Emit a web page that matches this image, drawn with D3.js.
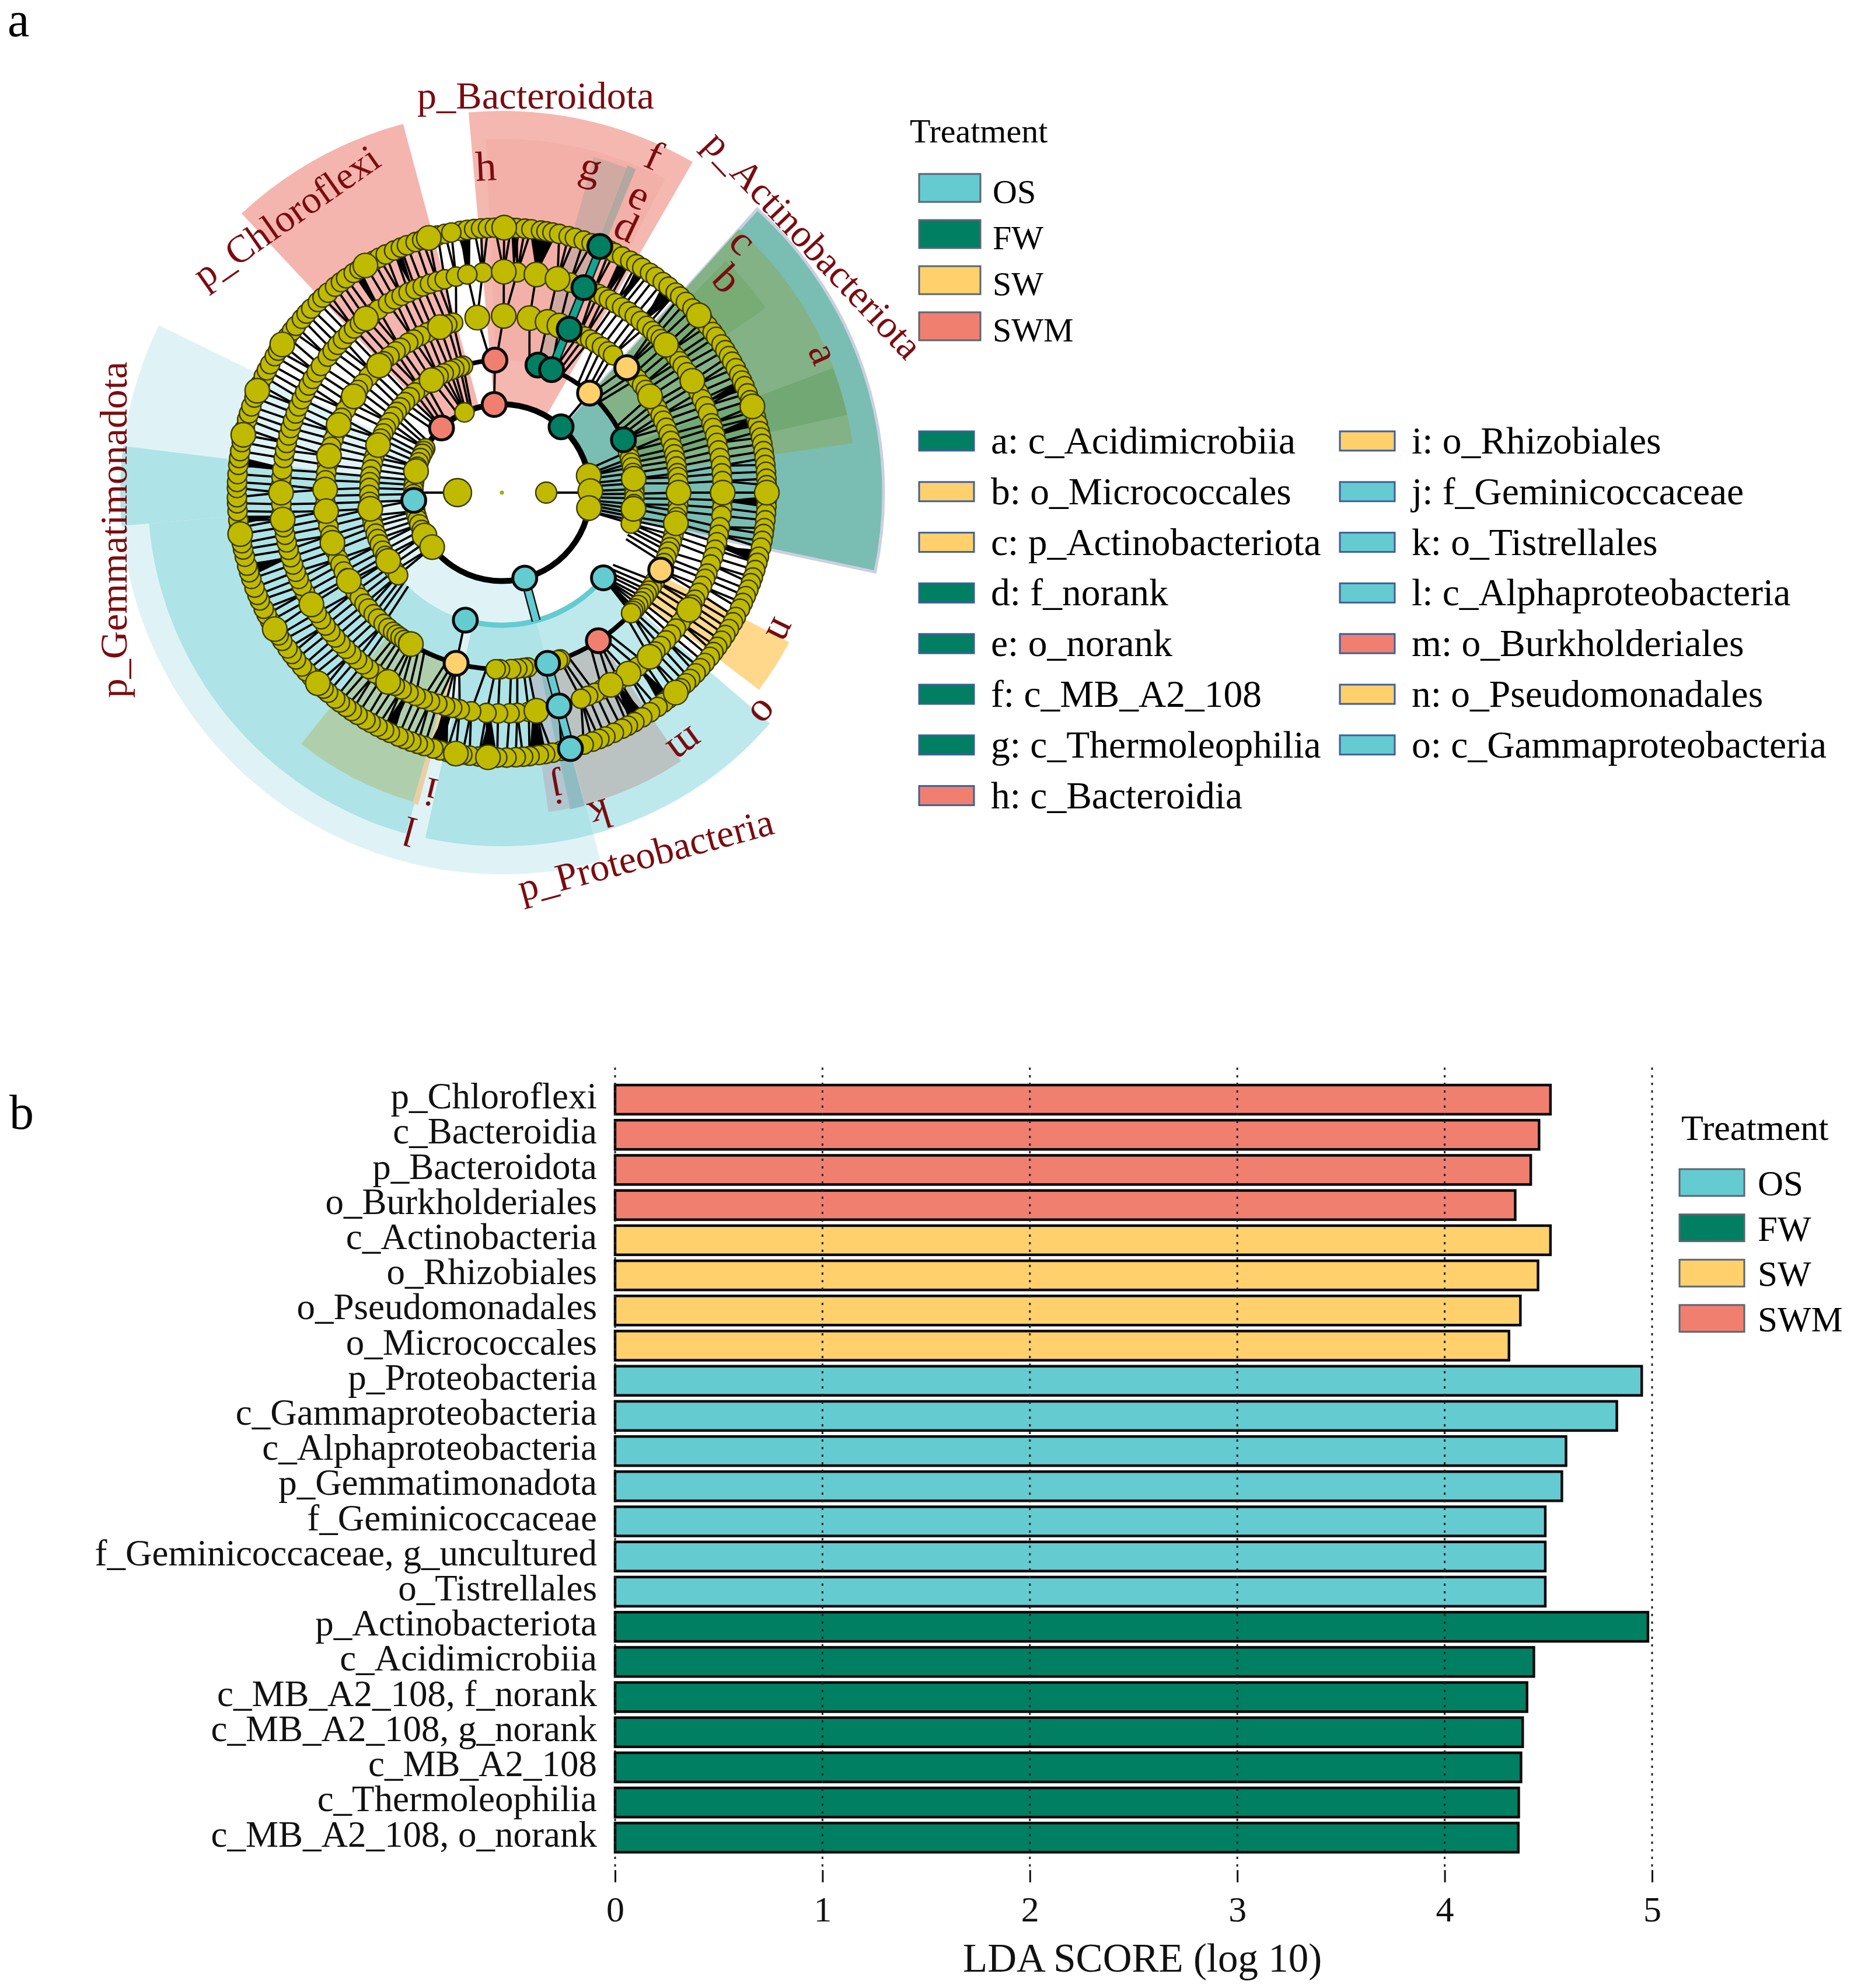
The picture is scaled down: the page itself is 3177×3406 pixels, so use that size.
<!DOCTYPE html>
<html><head><meta charset="utf-8">
<script src="https://cdn.jsdelivr.net/npm/d3@7/dist/d3.min.js"></script>
<style>html,body{margin:0;padding:0;background:#fff}svg{display:block}text{font-family:"Liberation Serif",serif}</style>
</head><body><svg id="c" width="3177" height="3406"></svg>
<script>
// ---------- data: bars ----------
const barNames = ["p_Chloroflexi","c_Bacteroidia","p_Bacteroidota","o_Burkholderiales","c_Actinobacteria","o_Rhizobiales","o_Pseudomonadales","o_Micrococcales","p_Proteobacteria","c_Gammaproteobacteria","c_Alphaproteobacteria","p_Gemmatimonadota","f_Geminicoccaceae","f_Geminicoccaceae, g_uncultured","o_Tistrellales","p_Actinobacteriota","c_Acidimicrobiia","c_MB_A2_108, f_norank","c_MB_A2_108, g_norank","c_MB_A2_108","c_Thermoleophilia","c_MB_A2_108, o_norank"];
const barValues = [4.51,4.455,4.415,4.34,4.51,4.45,4.365,4.31,4.95,4.83,4.585,4.565,4.485,4.485,4.485,4.98,4.43,4.397,4.376,4.368,4.357,4.355];
const barGroups = ["SWM","SWM","SWM","SWM","SW","SW","SW","SW","OS","OS","OS","OS","OS","OS","OS","FW","FW","FW","FW","FW","FW","FW"];
const axisTicks = [0,1,2,3,4,5];
const treatments = ["OS","FW","SW","SWM"];
const cladeKeyLeft = ["a: c_Acidimicrobiia","b: o_Micrococcales","c: p_Actinobacteriota","d: f_norank","e: o_norank","f: c_MB_A2_108","g: c_Thermoleophilia","h: c_Bacteroidia"];
const cladeKeyLeftGroups = ["FW","SW","SW","FW","FW","FW","FW","SWM"];
const cladeKeyRight = ["i: o_Rhizobiales","j: f_Geminicoccaceae","k: o_Tistrellales","l: c_Alphaproteobacteria","m: o_Burkholderiales","n: o_Pseudomonadales","o: c_Gammaproteobacteria"];
const cladeKeyRightGroups = ["SW","OS","OS","OS","SWM","SW","OS"];

// ---------- data: cladogram nodes, one angle list per taxonomic ring (degrees clockwise from top) ----------
const ring1Angles = [270,90];
const ring2Angles = [79,81,84,86,89,91,93,95,96.5,98,100,102,300,298,296,293,290,287,284,281,278,275,272,269,258,255,252,249,245,241,237,232,335];
const ring3Angles = [343,341.5,339,337,334,331.5,328,325,322,319,316,313,310,307.5,305,302,299,296.5,294,291,288,285.5,283,280,277,274.5,272,269,266,263,260,257,255,252,249.5,247,244,241.5,239,236.5,234,231.5,72,75,77,79,81.5,84,86,88.5,90.5,92.5,95,97,99,100.5,102,103.5];
const ring4Angles = [344,342,339.5,337,335,332.5,330,328,325,323,320.5,318,316,313,311,308,305.5,303,300.5,298,295,292.5,290,287.5,285,282,279,276.5,274,271,269,266.5,264,261.5,259,256,253.5,251,248,246,243.5,241,240,238.5,236,233.5,231,229,226.5,224.5,222,220,218,216.5,215,213.5,212,211,210.5,352,0.6,9,15,19,26,28,30,32,34.5,37,39,48,50,52.5,54.5,57,59.5,61.5,64,66,68.5,70.8,73,75.5,77.5,79.5,81.5,83.7,85,87,90,92,94,96,98,100,102,104,106,108,109.5,111.5,113.5,120,122,123.7,125,126.5,128,129.5,131,132,133,160.7,161.5,171.6,173,175,177,180.6,182];
const ring5Angles = [355,0.5,4,9,14.6,18,24.5,26,27.5,29,31,33,35,37,39,41,43,44.5,46,48,50,52,53.5,55,57,59.6,61,63,65,67,69,71.7,73,75,77,79,81,83,85,87,90,92,94,96,99,101,103,105,107,109,111.5,113,115,117,119,120.5,122,124,126,128,130,132,134,136,138,140,142,145,148,150.5,153,155,157,159,171,173,176,178,181,184,188,191,193,194.9,197,199,201,203,205,207,209,211,213,215,217,219,221,223,225,227,229,231,233,235,237,239.6,241,243,245,247,249,251,253,255,257,259,261,263,265,267,270,272,274,276,279,281,283,285,287,289,291,293,295,297,299,301,303,305,308,310,312,314,316,318,320,322,324,326,329,331,333,335,337,339,341,343,345,348,351];
const ring6Angles = [351,352.5,354,355.5,357,358.5,0.5,2,3.2,5,6.4,8.5,9.7,11,12.5,14.6,16,18,19.8,24,25.2,27,29,30.5,32,34,35.5,37.4,39,41,42.3,44,46,48,49.5,51,52.7,54,56,57.5,59,60.4,62,63.6,65,66.3,68,69.6,71,72.2,73.5,75,76.6,78,79.4,81,82.5,84,85.5,87,88.4,90,91.6,93,94.5,96,97.7,99,100.5,102,104,105.4,107,108.7,110,111.5,113,114.6,116,118,119.3,121,122.5,124,125.6,127,128.3,130,131.5,133,134.7,136,137.6,139,141,142.4,144,146,148,150,151.6,153,155,157,158.4,160,162,167,169,170.6,172,174,175.4,177,179,181,183,185,187,188.6,190,192,193.5,195,197,198.5,200,201.6,203,205,206.4,208,209.7,211,213,214.5,216,217.7,219,221,222.3,224,226,227.6,229,231,232.5,234,236,237.4,239,241,242.6,244,246,247.3,249,251,252.5,254,256,257.6,259,261,262.4,264,266,267.7,269,271,272.3,274,276,277.5,279,281,282.6,284,286,287.4,289,291,292.6,294,296,297.5,299,301,302.4,304,306,307.6,309,311,312.5,314,316,317.4,319,321,322.6,324,326,327.5,329,331,332.4,334,336,337.6,339,341,342.5,344,346,347.6,349];
const ringAngles = [ring1Angles,ring2Angles,ring3Angles,ring4Angles,ring5Angles,ring6Angles];
// nodes of high relative abundance, by ring
const ring1Large = [270];
const ring2Large = [79,89,100,232,241,284];
const ring3Large = [275,263,239,291,328,84,90,97];
const ring4Large = [352,0.6,9,15,19,57,90,100,264,271,282,292.5,303,316,240,253.5,211,339.5];
const ring5Large = [0.5,9,14.6,48,59.6,90,122,138,145,150.5,171,211,239.6,263,270,322];
const ring6Large = [270,261,90,100,71,48,355,0.5,9,344,329,322,304,292.6,282.6,239,224,183,190,139];
const ringLarge = [ring1Large,ring2Large,ring3Large,ring4Large,ring5Large,ring6Large];
// biomarker nodes
const markerRings  = [2,2,2,2,2,3,3,3,3,3,3,3,4,4,4,4,4,4,5,5,6,6];
const markerAngles = [317,355,42,165,265,357,15.8,22,41.4,66.5,130,196,22.4,45,116,146.9,165,195,21.8,165,21.7,165];
const markerGroups = ["SWM","SWM","FW","OS","OS","SWM","FW","FW","SW","FW","OS","OS","FW","SW","SW","SWM","OS","SW","FW","OS","FW","OS"];
// clade sectors: start, end, inner radius, outer radius
const sectorStart = [165,317,355,357.4,15.3,21,42,42,69.4,44,117.5,130.7,165,195.7,265,196,195,146.3,165,165.2];
const sectorEnd   = [296,345,390,387.5,21,22.5,102,82,77.3,55,127.5,165,192.5,265,277,218.6,196,165,171.7,167.8];
const sectorInner = [151,155,153,227,227,227,153,227,227,302,302,227,227,227,153,302,302,302,302,302];
const sectorOuter = [654,654,654,606,596,600,654,607,606,552,555,606,606,607,654,551,554,553,553,555];
const sectorTint  = ["#DFF3F6","#F4B5AE","#F4B8B1","#F3B0A8","#D1A9A3","#B3A8A0","#7ABDB3","#83B286","#71A873","#79AB75","#FFD88C","#BDE9ED","#AEE3E7","#AEE3E7","#AEE3E7","#AFCFAC","#EBCFA4","#BBC2C2","#B2C6CF","#8FBCC2"];
// dense child fans in the outermost band
const fanAngles = [351.7,3,9,28,32,39.7,66,74.4,92,104,141.8,149,172,183,194,205.5,253,264,276.6,326.6,336.4];
const fanHalves = [1.5,1,3,1.2,1.2,2,1.2,1.2,1.2,1.5,1.5,2,2,2,2.2,1.5,1.5,1,1.2,1,1];
// emphasised branches
const trunkRings = [2,3,3,4,4];
const trunkFrom  = [0,15.8,343,133,182];
const trunkTo    = [360,67,357,160,211];
const branchFromRing = [3,2,4];
const branchToRing   = [6,3,6];
const branchAngle    = [22,165,165];
const branchGroup    = ["FW","OS","OS"];
const tintArcRing = [3], tintArcFrom = [132], tintArcTo = [194], tintArcGroup = ["OS"];
// clade letters and phylum names
const letterTexts  = ["a","b","c","d","e","f","g","h","i","j","k","l","m","n","o"];
const letterAngles = [66.6,46.5,43.8,25.1,24.8,24.3,15.3,357.2,193.4,169.5,163,195.3,144,116.2,130];
const letterRadii  = [597,528,593,499,557,629,574,555,523,514,572,597,532,532,584];
const phylumTexts  = ["p_Bacteroidota","p_Actinobacteriota","p_Chloroflexi","p_Gemmatimonadota","p_Proteobacteria"];
const phylumAngles = [4.9,51.5,322,264.5,158.4];
const phylumRadii  = [678,678,596,664,672];
const phylumTurns  = [0,46.6,-35,-90,-15];

// ---------- layout & style ----------
const palette = d3.scaleOrdinal().domain(treatments).range(["#64CBD1","#007F63","#FFD06C","#F07F70"]);
const svg = d3.select("#c");
const rad = d3.scaleLinear().domain([0,360]).range([0,2*Math.PI]);
const ringR = d3.scaleLinear().domain([1,6]).range([76,454]);
const nodeR = d3.scaleOrdinal().domain(["typical","large"]).range([16.5,21]);
const clade = svg.append("g").attr("transform","translate(860,844)");
const radial = d3.lineRadial().angle(d=>rad(d[0])).radius(d=>d[1]);
const arcGen = d3.arc();
const arcPath = (a0,a1,r0,r1)=>arcGen({startAngle:rad(a0),endAngle:rad(a1),innerRadius:r0,outerRadius:r1});
const P = (a,r)=>d3.pointRadial(rad(a),r);

// sectors
clade.append("g").selectAll("path").data(sectorStart.map((_,i)=>i)).join("path")
  .attr("d",i=>arcPath(sectorStart[i],sectorEnd[i],sectorInner[i],sectorOuter[i]))
  .attr("fill",i=>sectorTint[i])
  .attr("stroke",i=>i===6?"#CBD0E0":"none").attr("stroke-width",5);

// all nodes per ring including biomarkers
const nodesByRing = ringAngles.map((list,k)=>list.concat(markerAngles.filter((_,i)=>markerRings[i]===k+1)));
// spokes
const wrapDiff = (a,b)=>((b-a+540)%360)-180;
const spokes = ring1Angles.map(a=>[[a,ringR(1)],[a,ringR(2)]]);
for(let k=2;k<6;k++){
  nodesByRing[k].forEach(a=>{
    let best=1e9;
    nodesByRing[k-1].forEach(p=>{const d=wrapDiff(a,p);if(Math.abs(d)<Math.abs(best)){best=d;}});
    if(Math.abs(best)>10) return;
    const lean=Math.max(-3,Math.min(3,best));
    spokes.push([[a+lean,ringR(k)],[a,ringR(k+1)]]);
  });
}
clade.append("g").selectAll("path").data(spokes).join("path")
  .attr("d",radial).attr("fill","none").attr("stroke","#000").attr("stroke-width",3.8);
// fans
clade.append("g").selectAll("path").data(fanAngles.map((_,i)=>i)).join("path")
  .attr("d",i=>radial([[fanAngles[i],ringR(5)],[fanAngles[i]-fanHalves[i],ringR(6)],[fanAngles[i]+fanHalves[i],ringR(6)]])+"Z")
  .attr("fill","#000");
// trunks
clade.append("g").selectAll("path").data(trunkRings.map((_,i)=>i)).join("path")
  .attr("d",i=>{const w=trunkRings[i]===2?5:4;const r=ringR(trunkRings[i]);return arcPath(trunkFrom[i],trunkTo[i],r-w,r+w);})
  .attr("fill","#000");
// tinted arc
clade.append("g").selectAll("path").data(tintArcRing.map((_,i)=>i)).join("path")
  .attr("d",i=>{const r=ringR(tintArcRing[i]);return arcPath(tintArcFrom[i],tintArcTo[i],r-4.5,r+4.5);})
  .attr("fill",i=>palette(tintArcGroup[i]));
// coloured branches
clade.append("g").selectAll("path").data(branchAngle.map((_,i)=>i)).join("path")
  .attr("d",i=>radial([[branchAngle[i],ringR(branchFromRing[i])],[branchAngle[i],ringR(branchToRing[i])]]))
  .attr("fill","none").attr("stroke","#111").attr("stroke-width",16);
clade.append("g").selectAll("path").data(branchAngle.map((_,i)=>i)).join("path")
  .attr("d",i=>radial([[branchAngle[i],ringR(branchFromRing[i])],[branchAngle[i],ringR(branchToRing[i])]]))
  .attr("fill","none").attr("stroke",i=>branchGroup[i]==="FW"?"#12A592":palette(branchGroup[i])).attr("stroke-width",11);

// yellow nodes
const yellow=[];
ringAngles.forEach((list,k)=>list.forEach(a=>yellow.push({k,a,large:ringLarge[k].includes(a)})));
yellow.sort((p,q)=>d3.ascending(+p.large,+q.large));
clade.append("g").selectAll("circle").data(yellow).join("circle")
  .attr("cx",d=>P(d.a,ringR(d.k+1))[0]).attr("cy",d=>P(d.a,ringR(d.k+1))[1])
  .attr("r",d=>{ if(d.k===0) return d.a===270?24:18; return nodeR(d.large?"large":"typical"); })
  .attr("fill","#BFBA00").attr("stroke","#3b3a00").attr("stroke-width",2.4);
clade.append("circle").attr("r",3.5).attr("fill","#A3AE00");
// biomarkers
clade.append("g").selectAll("circle").data(markerAngles.map((_,i)=>i)).join("circle")
  .attr("cx",i=>P(markerAngles[i],ringR(markerRings[i]))[0]).attr("cy",i=>P(markerAngles[i],ringR(markerRings[i]))[1])
  .attr("r",20.5).attr("fill",i=>palette(markerGroups[i])).attr("stroke","#0a0a0a").attr("stroke-width",5);

// letters
clade.append("g").selectAll("text").data(letterTexts.map((_,i)=>i)).join("text")
  .attr("transform",i=>{const p=P(letterAngles[i],letterRadii[i]);return `translate(${p[0]},${p[1]}) rotate(${letterAngles[i]})`;})
  .attr("dy","0.27em").attr("text-anchor","middle").attr("font-size",72).attr("fill","#7A0C10").text(i=>letterTexts[i]);
clade.append("g").selectAll("text").data(phylumTexts.map((_,i)=>i)).join("text")
  .attr("transform",i=>{const p=P(phylumAngles[i],phylumRadii[i]);return `translate(${p[0]},${p[1]}) rotate(${phylumTurns[i]})`;})
  .attr("dy","0.27em").attr("text-anchor","middle").attr("font-size",66.5).attr("fill","#7A0C10").text(i=>phylumTexts[i]);

// panel letters
svg.append("text").attr("x",13).attr("y",62).attr("font-size",84).text("a");
svg.append("text").attr("x",16).attr("y",1934).attr("font-size",84).text("b");

// treatment legends
function treatmentLegend(titleX,titleY,x,swY,step,sw,sh,tx,tdy,titleFs,fs){
  svg.append("text").attr("x",titleX).attr("y",titleY).attr("font-size",titleFs).text("Treatment");
  const g=svg.append("g");
  g.selectAll("rect").data(treatments).join("rect").attr("x",x).attr("y",(d,i)=>swY+i*step).attr("width",sw).attr("height",sh)
    .attr("fill",d=>palette(d)).attr("stroke","#5c6670").attr("stroke-width",3);
  g.selectAll("text").data(treatments).join("text").attr("x",tx).attr("y",(d,i)=>swY+i*step+tdy).attr("font-size",fs).text(d=>d);
}
treatmentLegend(1559,244,1575,298,79,105,48,1701,50,58,58);
treatmentLegend(2881,1953,2878,2003,77.6,111,46,3012,45,62,61);

// clade key
function key(names,groups,x){
  const g=svg.append("g");
  const y=d3.scaleLinear().domain([0,1]).range([739,825.8]);
  g.selectAll("rect").data(names).join("rect").attr("x",x).attr("y",(d,i)=>y(i)).attr("width",94).attr("height",33)
    .attr("fill",(d,i)=>palette(groups[i])).attr("stroke","#3F5F9A").attr("stroke-width",3);
  g.selectAll("text").data(names).join("text").attr("x",x+123).attr("y",(d,i)=>y(i)+38).attr("font-size",65.5).text(d=>d);
}
key(cladeKeyLeft,cladeKeyLeftGroups,1575);
key(cladeKeyRight,cladeKeyRightGroups,2296);

// bar chart
const x = d3.scaleLinear().domain([0,5]).range([1054,2831]);
const y = d3.scaleBand().domain(barNames).range([1853.9,3178.5]).paddingInner(0.17).paddingOuter(0.085);
svg.append("g").selectAll("rect").data(barNames).join("rect")
  .attr("x",x(0)).attr("y",d=>y(d)).attr("height",y.bandwidth())
  .attr("width",(d,i)=>x(barValues[i])-x(0))
  .attr("fill",(d,i)=>palette(barGroups[i])).attr("stroke","#0a0a0a").attr("stroke-width",4.5);
svg.append("g").selectAll("line").data(axisTicks).join("line")
  .attr("x1",d=>x(d)).attr("x2",d=>x(d)).attr("y1",1829).attr("y2",3204)
  .attr("stroke","#222").attr("stroke-width",3).attr("stroke-dasharray","4,9");
const ax = svg.append("g").attr("transform","translate(0,3204)").call(d3.axisBottom(x).tickValues(axisTicks).tickFormat(d3.format("d")).tickSize(21).tickPadding(23));
ax.select(".domain").remove();
ax.selectAll("line").attr("stroke","#111").attr("stroke-width",3);
ax.selectAll("text").attr("font-size",62).attr("font-family","Liberation Serif").attr("fill","#111");
const ay = svg.append("g").attr("transform","translate(1054,0)").call(d3.axisLeft(y).tickSize(0).tickPadding(31));
ay.select(".domain").remove();
ay.selectAll("text").attr("font-size",63).attr("font-family","Liberation Serif").attr("fill","#111").attr("dy","0.24em");
svg.append("text").attr("x",1650).attr("y",3378).attr("font-size",69).attr("fill","#111").text("LDA SCORE (log 10)");
</script></body></html>
